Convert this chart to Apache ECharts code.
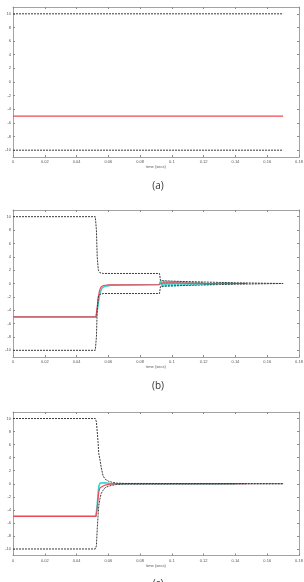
<!DOCTYPE html>
<html>
<head>
<meta charset="utf-8">
<script src="https://cdn.jsdelivr.net/npm/echarts@6/dist/echarts.min.js"></script>
<style>
  html, body { margin: 0; padding: 0; background: #fff; }
  #chart { width: 304px; height: 582px; }
</style>
</head>
<body>
<div id="chart"></div>
<script>
// tick values shared by all three panels
const yTickValues = [-10, -8, -6, -4, -2, 0, 2, 4, 6, 8, 10];
const panelLabels = ['(a)', '(b)', '(c)'];
const xName = 'time (secs)';
const yNames = ['θ-error (deg)', 'θ-error (deg)', 'θ-error (deg)'];

// panel (a)
const aT = [0, 0.17];
const aUpper = [10, 10];
const aLower = [-10, -10];
const aRed = [-5, -5];

// panel (b)
const bBoundT = [0, 0.0518, 0.0525, 0.053, 0.0537, 0.0548, 0.057, 0.0922, 0.0928, 0.095, 0.1, 0.11, 0.12, 0.13, 0.14, 0.15, 0.16, 0.17];
const bUpper = [10, 10, 8, 4, 2, 1.6, 1.5, 1.5, 0.45, 0.4, 0.35, 0.28, 0.22, 0.16, 0.11, 0.07, 0.03, 0];
const bLower = [-10, -10, -8, -4, -2, -1.6, -1.5, -1.5, -0.45, -0.4, -0.35, -0.28, -0.22, -0.16, -0.11, -0.07, -0.03, 0];
const bRedT = [0, 0.0522, 0.053, 0.0537, 0.0545, 0.0555, 0.057, 0.06, 0.092, 0.094, 0.1, 0.11, 0.12, 0.13, 0.147];
const bRed = [-5, -5, -3.5, -2, -1, -0.5, -0.3, -0.2, -0.15, 0.1, 0.08, 0.05, 0.02, 0, 0];
const bCyanT = [0, 0.0524, 0.0532, 0.054, 0.0548, 0.056, 0.058, 0.062, 0.092,
  0.093, 0.094, 0.095, 0.096, 0.097, 0.098, 0.099, 0.1, 0.101, 0.102, 0.103, 0.104, 0.105, 0.106,
  0.107, 0.108, 0.109, 0.11, 0.111, 0.112, 0.113, 0.114, 0.115, 0.116, 0.117, 0.118, 0.119, 0.12,
  0.121, 0.122, 0.123, 0.124, 0.125, 0.126, 0.127, 0.128, 0.13, 0.14];
const bCyan = [-5, -5, -3.8, -2.5, -1.4, -0.7, -0.4, -0.25, -0.2,
  0.45, -0.55, 0.42, -0.5, 0.4, -0.47, 0.38, -0.44, 0.36, -0.41, 0.34, -0.38, 0.32, -0.35,
  0.3, -0.32, 0.28, -0.3, 0.26, -0.27, 0.24, -0.24, 0.22, -0.21, 0.2, -0.18, 0.17, -0.15,
  0.14, -0.13, 0.11, -0.1, 0.09, -0.08, 0.06, -0.05, 0.02, 0];

// panel (c)
const cBoundT = [0, 0.0518, 0.0525, 0.053, 0.0535, 0.054, 0.0548, 0.0555, 0.0567, 0.058, 0.06, 0.062, 0.065, 0.07, 0.17];
const cUpper = [10, 10, 9.5, 8, 6.5, 4.6, 3.6, 2.5, 1.2, 0.7, 0.4, 0.25, 0.1, 0.05, 0];
const cLower = [-10, -10, -9.5, -7, -5, -3.3, -2.2, -1.5, -1, -0.6, -0.4, -0.25, -0.12, -0.05, 0];
const cRedT = [0, 0.0522, 0.053, 0.0535, 0.054, 0.0548, 0.056, 0.058, 0.061, 0.065, 0.147];
const cRed = [-5, -5, -3.8, -2.4, -1.2, -0.6, -0.35, -0.2, -0.05, 0, 0];
const cCyanT = [0, 0.0522, 0.053, 0.0535, 0.054, 0.0548, 0.056, 0.058, 0.061, 0.065, 0.14];
const cCyan = [-5, -5, -3.2, -1.6, -0.4, 0.1, 0.2, 0.15, 0.05, 0, 0];

const zip = (t, v) => t.map((x, i) => [x, v[i]]);

const panels = [
  { top: 7, height: 150, red: zip(aT, aRed), cyan: null, upper: zip(aT, aUpper), lower: zip(aT, aLower) },
  { top: 210, height: 147, red: zip(bRedT, bRed), cyan: zip(bCyanT, bCyan), upper: zip(bBoundT, bUpper), lower: zip(bBoundT, bLower) },
  { top: 412, height: 143.5, red: zip(cRedT, cRed), cyan: zip(cCyanT, cCyan), upper: zip(cBoundT, cUpper), lower: zip(cBoundT, cLower) }
];

const axisColor = '#8a8a8a';
const tinyFont = { fontSize: 4, color: '#555', fontFamily: 'Liberation Sans' };
const boxLine = { onZero: false, lineStyle: { color: axisColor, width: 0.8 } };
const inTick = { inside: true, length: 2, lineStyle: { color: axisColor } };

const chart = echarts.init(document.getElementById('chart'), null, { renderer: 'canvas' });

const grid = [], xAxis = [], yAxis = [], series = [], title = [];

panels.forEach((p, i) => {
  grid.push({ left: 13, width: 286, top: p.top, height: p.height, containLabel: false, outerBoundsMode: 'none' });
  // bottom x axis
  xAxis.push({
    type: 'value', gridIndex: i, position: 'bottom', min: 0, max: 0.18, interval: 0.02,
    name: xName, nameLocation: 'middle', nameGap: 7,
    nameTextStyle: tinyFont,
    axisLine: boxLine, axisTick: inTick,
    axisLabel: { ...tinyFont, margin: 3, formatter: v => v === 0 ? '0' : String(+v.toFixed(2)) },
    splitLine: { show: false }
  });
  // top mirror axis (box)
  xAxis.push({
    type: 'value', gridIndex: i, position: 'top', min: 0, max: 0.18, interval: 0.02,
    axisLine: boxLine, axisTick: inTick,
    axisLabel: { show: false }, splitLine: { show: false }
  });
  yAxis.push({
    type: 'value', gridIndex: i, position: 'left', min: -11, max: 11,
    name: yNames[i], nameLocation: 'middle', nameGap: 6, nameRotate: 90,
    nameTextStyle: tinyFont,
    axisLine: boxLine,
    axisTick: { ...inTick, customValues: yTickValues },
    axisLabel: { ...tinyFont, margin: 2, customValues: yTickValues },
    splitLine: { show: false }
  });
  yAxis.push({
    type: 'value', gridIndex: i, position: 'right', min: -11, max: 11,
    axisLine: boxLine,
    axisTick: { ...inTick, customValues: yTickValues },
    axisLabel: { show: false }, splitLine: { show: false }
  });

  const xi = i * 2, yi = i * 2;
  const base = { type: 'line', xAxisIndex: xi, yAxisIndex: yi, showSymbol: false, animation: false, silent: true };
  if (p.cyan) {
    series.push({ ...base, name: 'cyan', data: p.cyan, lineStyle: { color: '#35d3cf', width: 1.5 } });
  }
  series.push({ ...base, name: 'red', data: p.red, lineStyle: { color: '#ee4a55', width: 1.2 } });
  series.push({ ...base, name: 'upper', data: p.upper, lineStyle: { color: '#3a3a3a', width: 1, type: [2, 1] } });
  series.push({ ...base, name: 'lower', data: p.lower, lineStyle: { color: '#3a3a3a', width: 1, type: [2, 1] } });

  title.push({
    text: panelLabels[i], left: 153, textAlign: 'center',
    top: [176, 376, 574][i],
    textStyle: { fontSize: 10, fontWeight: 'normal', color: '#333', fontFamily: 'Open Sans' }
  });
});

chart.setOption({ animation: false, title, grid, xAxis, yAxis, series });
</script>
</body>
</html>
